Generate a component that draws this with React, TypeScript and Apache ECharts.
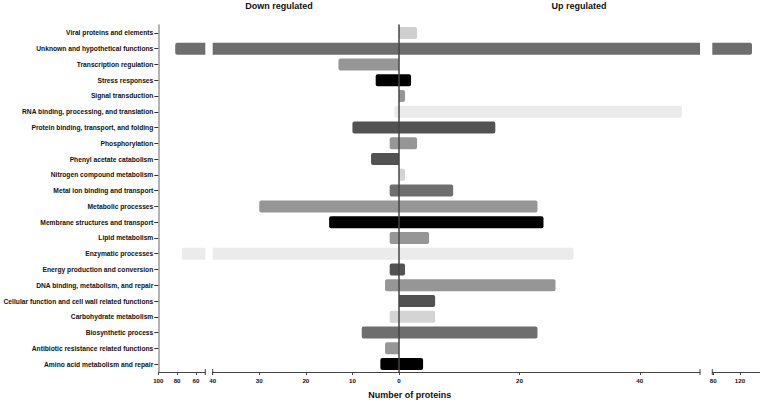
import React, { useEffect, useRef } from "react";
import * as echarts from "echarts";

// Categories, top to bottom
const categories = [
  "Viral proteins and elements",
  "Unknown and hypothetical functions",
  "Transcription regulation",
  "Stress responses",
  "Signal transduction",
  "RNA binding, processing, and translation",
  "Protein binding, transport, and folding",
  "Phosphorylation",
  "Phenyl acetate catabolism",
  "Nitrogen compound metabolism",
  "Metal ion binding and transport",
  "Metabolic processes",
  "Membrane structures and transport",
  "Lipid metabolism",
  "Enzymatic processes",
  "Energy production and conversion",
  "DNA binding, metabolism, and repair",
  "Cellular function and cell wall related functions",
  "Carbohydrate metabolism",
  "Biosynthetic process",
  "Antibiotic resistance related functions",
  "Amino acid metabolism and repair",
];

const downRegulated = [0, 82, 13, 5, 0, 1, 10, 2, 6, 0, 2, 30, 15, 2, 75, 2, 3, 0, 2, 8, 3, 4];
const upRegulated = [3, 138, 0, 2, 1, 47, 16, 3, 0, 1, 9, 23, 24, 5, 29, 1, 26, 6, 6, 23, 0, 4];

const barColors = [
  "#cfcfcf", "#6e6e6e", "#969696", "#000000", "#969696", "#ebebeb",
  "#525252", "#969696", "#525252", "#d4d4d4", "#6e6e6e", "#969696",
  "#000000", "#969696", "#ebebeb", "#525252", "#969696", "#525252",
  "#d4d4d4", "#6e6e6e", "#969696", "#000000",
];

// Axis tick labels for each segment of the broken axis
const leftOuterTicks = [60, 80, 100];
const leftInnerTicks = [0, 10, 20, 30, 40];
const leftInnerLabels = [10, 20, 30, 40];
const rightInnerTicks = [0, 20, 40];
const rightOuterTicks = [80, 120];

const FONT = "'Liberation Sans', Arial, Helvetica, sans-serif";
const GRID_TOP = 25;
const GRID_H = 347;

const segments = [
  { left: 158.3, width: 47, min: 50, max: 100, inverse: true, ticks: leftOuterTicks, labels: leftOuterTicks },
  { left: 212.7, width: 186.3, min: 0, max: 40, inverse: true, ticks: leftInnerTicks, labels: leftInnerLabels },
  { left: 399, width: 301, min: 0, max: 50, inverse: false, ticks: rightInnerTicks, labels: rightInnerTicks },
  { left: 712.3, width: 47.7, min: 78.5, max: 150, inverse: false, ticks: rightOuterTicks, labels: rightOuterTicks },
];

export default function App() {
  const ref = useRef<HTMLDivElement>(null);

  useEffect(() => {
    if (!ref.current) return;
    const chart = echarts.init(ref.current, undefined, { renderer: "svg" });

    const grids = segments.map((s) => ({
      left: s.left,
      width: s.width,
      top: GRID_TOP,
      height: GRID_H,
      containLabel: false,
      outerBoundsMode: "none",
    }));

    const xAxes = segments.map((s, i) => ({
      type: "value",
      gridIndex: i,
      min: s.min,
      max: s.max,
      inverse: s.inverse,
      splitLine: { show: false },
      axisLine: { show: true, onZero: false, lineStyle: { color: "#444", width: 1 } },
      axisTick: { show: true, length: 3, customValues: s.ticks, lineStyle: { color: "#444", width: 1 } },
      axisLabel: {
        customValues: s.labels,
        fontSize: 6.2,
        fontWeight: "bold",
        color: "#111",
        margin: 5,
        fontFamily: FONT,
      },
    }));

    const yAxes = segments.map((s, i) => {
      const base: any = {
        type: "category",
        gridIndex: i,
        data: categories,
        inverse: true,
      };
      if (i === 0) {
        return {
          ...base,
          axisLine: { show: true, onZero: false, lineStyle: { color: "#9a9a9a", width: 1.5 } },
          axisTick: { show: true, alignWithLabel: true, length: 4, lineStyle: { color: "#333" } },
          axisLabel: { fontSize: 6.7, fontWeight: "bold", color: "#111", margin: 5, fontFamily: FONT },
        };
      }
      if (i === 2) {
        return {
          ...base,
          z: 5,
          axisLine: { show: true, onZero: false, lineStyle: { color: "#444", width: 1.5 } },
          axisTick: { show: false },
          axisLabel: { show: false },
        };
      }
      return { ...base, show: false };
    });

    const leftR = [2, 0, 0, 2];
    const rightR = [0, 2, 2, 0];

    const series = [
      {
        type: "bar",
        xAxisIndex: 0,
        yAxisIndex: 0,
        barWidth: 12,
        clip: true,
        data: downRegulated.map((v, i) =>
          v > 40 ? { value: v, itemStyle: { color: barColors[i], borderRadius: leftR } } : "-"
        ),
      },
      {
        type: "bar",
        xAxisIndex: 1,
        yAxisIndex: 1,
        barWidth: 12,
        clip: true,
        data: downRegulated.map((v, i) =>
          v > 0 ? { value: v, itemStyle: { color: barColors[i], borderRadius: v > 40 ? 0 : leftR } } : "-"
        ),
      },
      {
        type: "bar",
        xAxisIndex: 2,
        yAxisIndex: 2,
        barWidth: 12,
        clip: true,
        data: upRegulated.map((v, i) =>
          v > 0 ? { value: v, itemStyle: { color: barColors[i], borderRadius: v > 50 ? 0 : rightR } } : "-"
        ),
      },
      {
        type: "bar",
        xAxisIndex: 3,
        yAxisIndex: 3,
        barWidth: 12,
        clip: true,
        data: upRegulated.map((v, i) =>
          v > 50 ? { value: v, itemStyle: { color: barColors[i], borderRadius: rightR } } : "-"
        ),
      },
    ];

    const axisY = GRID_TOP + GRID_H;
    const breakXs = [
      segments[0].left + segments[0].width,
      segments[1].left,
      segments[2].left + segments[2].width,
      segments[3].left,
    ];

    const graphic: any[] = [
      {
        type: "text",
        x: 279,
        y: 5.5,
        style: { text: "Down regulated", fontSize: 9, fontWeight: "bold", fontFamily: FONT, fill: "#111", align: "center", verticalAlign: "middle" },
      },
      {
        type: "text",
        x: 579,
        y: 5.5,
        style: { text: "Up regulated", fontSize: 9, fontWeight: "bold", fontFamily: FONT, fill: "#111", align: "center", verticalAlign: "middle" },
      },
      {
        type: "text",
        x: 409.7,
        y: 395,
        style: { text: "Number of proteins", fontSize: 9, fontWeight: "bold", fontFamily: FONT, fill: "#111", align: "center", verticalAlign: "middle" },
      },
      ...breakXs.map((bx) => ({
        type: "line",
        shape: { x1: bx, y1: axisY - 3, x2: bx, y2: axisY + 3 },
        style: { stroke: "#444", lineWidth: 1 },
      })),
    ];

    chart.setOption({
      animation: false,
      backgroundColor: "#ffffff",
      grid: grids,
      xAxis: xAxes,
      yAxis: yAxes,
      series,
      graphic,
    } as any);

    return () => chart.dispose();
  }, []);

  return (
    <div
      ref={ref}
      style={{ position: "absolute", left: 0, top: 0, width: 760, height: 402, background: "#fff" }}
    />
  );
}
